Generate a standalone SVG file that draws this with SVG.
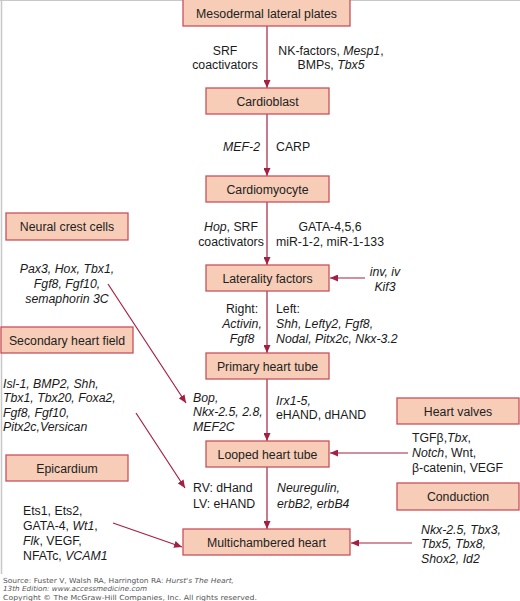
<svg xmlns="http://www.w3.org/2000/svg" width="520" height="601" viewBox="0 0 520 601">
<defs>
<style>
.box{fill:#f7cdb7;stroke:#c8505c;stroke-width:1.3}
.bt{font-family:"Liberation Sans",Arial,sans-serif;font-size:12.3px;fill:#222;text-anchor:middle}
.t{font-family:"Liberation Sans",Arial,sans-serif;font-size:12.3px;fill:#1a1a1a}
.m{text-anchor:middle}
.i{font-style:italic}
.c{stroke:#a52040;stroke-width:1.2;fill:none}
.src{font-family:"DejaVu Sans",Verdana,sans-serif;font-size:7px;fill:#555}
</style>
<marker id="ah" markerWidth="8" markerHeight="7" refX="8" refY="3.5" orient="auto" markerUnits="userSpaceOnUse">
<path d="M0,0 L8,3.5 L0,7 z" fill="#a52040"/>
</marker>
</defs>
<rect x="0" y="0" width="520" height="601" fill="#ffffff"/>
<line x1="0" y1="0.5" x2="520" y2="0.5" stroke="#c8c8c8" stroke-width="1"/>
<line x1="1.5" y1="0" x2="1.5" y2="574" stroke="#c8c8c8" stroke-width="1.5"/>

<g id="connectors">
<line class="c" x1="267" y1="26" x2="267" y2="88" marker-end="url(#ah)"/>
<line class="c" x1="267" y1="114" x2="267" y2="176" marker-end="url(#ah)"/>
<line class="c" x1="267" y1="202" x2="267" y2="265" marker-end="url(#ah)"/>
<line class="c" x1="267" y1="291" x2="267" y2="353" marker-end="url(#ah)"/>
<line class="c" x1="267" y1="379" x2="267" y2="441" marker-end="url(#ah)"/>
<line class="c" x1="267" y1="467" x2="267" y2="529" marker-end="url(#ah)"/>
<line class="c" x1="365" y1="278" x2="330" y2="278" marker-end="url(#ah)"/>
<line class="c" x1="108" y1="284" x2="186" y2="403" marker-end="url(#ah)"/>
<line class="c" x1="136" y1="413" x2="185" y2="488" marker-end="url(#ah)"/>
<line class="c" x1="408" y1="453" x2="330" y2="453" marker-end="url(#ah)"/>
<line class="c" x1="113" y1="523" x2="182" y2="547" marker-end="url(#ah)"/>
<line class="c" x1="412" y1="543" x2="351" y2="543" marker-end="url(#ah)"/>
</g>

<g id="mesodermal">
<rect class="box" x="183" y="-1" width="167" height="27"/>
<text class="bt" x="266.5" y="17.5">Mesodermal lateral plates</text>
</g>
<g id="cardioblast">
<rect class="box" x="206" y="88" width="123" height="26"/>
<text class="bt" x="267.5" y="105.5">Cardioblast</text>
</g>
<g id="cardiomyocyte">
<rect class="box" x="206" y="176" width="123" height="26"/>
<text class="bt" x="267.5" y="193.5">Cardiomyocyte</text>
</g>
<g id="laterality">
<rect class="box" x="206" y="265" width="123" height="26"/>
<text class="bt" x="267.5" y="282.5">Laterality factors</text>
</g>
<g id="primary">
<rect class="box" x="206" y="353" width="123" height="26"/>
<text class="bt" x="267.5" y="370.5">Primary heart tube</text>
</g>
<g id="looped">
<rect class="box" x="206" y="441" width="123" height="26"/>
<text class="bt" x="267.5" y="458.5">Looped heart tube</text>
</g>
<g id="multichambered">
<rect class="box" x="183" y="529" width="167" height="26"/>
<text class="bt" x="266.5" y="546.5">Multichambered heart</text>
</g>
<g id="neural-crest">
<rect class="box" x="6" y="213" width="122" height="27"/>
<text class="bt" x="67" y="231">Neural crest cells</text>
</g>
<g id="secondary">
<rect class="box" x="1" y="327" width="132" height="26"/>
<text class="bt" x="67" y="344.5">Secondary heart field</text>
</g>
<g id="epicardium">
<rect class="box" x="6" y="455" width="122" height="26"/>
<text class="bt" x="67" y="472.5">Epicardium</text>
</g>
<g id="heart-valves">
<rect class="box" x="397" y="398" width="122" height="26"/>
<text class="bt" x="458" y="415.5">Heart valves</text>
</g>
<g id="conduction">
<rect class="box" x="397" y="483" width="122" height="27"/>
<text class="bt" x="458" y="501">Conduction</text>
</g>

<g id="labels">
<text class="t m" x="225" y="54.5">SRF</text>
<text class="t m" x="225" y="68.5">coactivators</text>
<text class="t m" x="331" y="54.5">NK-factors, <tspan class="i">Mesp1</tspan>,</text>
<text class="t m" x="331" y="68.5">BMPs, <tspan class="i">Tbx5</tspan></text>
<text class="t i" x="260" y="150.5" text-anchor="end">MEF-2</text>
<text class="t" x="276" y="150.5">CARP</text>
<text class="t m" x="231" y="230.5"><tspan class="i">Hop</tspan>, SRF</text>
<text class="t m" x="231" y="245.5">coactivators</text>
<text class="t m" x="330" y="230.5">GATA-4,5,6</text>
<text class="t m" x="330" y="245.5">miR-1-2, miR-1-133</text>
<text class="t m i" x="385" y="275.5">inv, iv</text>
<text class="t m i" x="385" y="290.5">Kif3</text>
<text class="t m i" x="67" y="272.5">Pax3, Hox, Tbx1,</text>
<text class="t m i" x="67" y="287.5">Fgf8, Fgf10,</text>
<text class="t m i" x="67" y="302.5">semaphorin 3C</text>
<text class="t m" x="242" y="312.5">Right:</text>
<text class="t m i" x="242" y="327.5">Activin,</text>
<text class="t m i" x="242" y="342.5">Fgf8</text>
<text class="t" x="276" y="312.5">Left:</text>
<text class="t i" x="276" y="327.5">Shh, Lefty2, Fgf8,</text>
<text class="t i" x="276" y="342.5">Nodal, Pitx2c, Nkx-3.2</text>
<text class="t i" x="3" y="387.5">Isl-1, BMP2, Shh,</text>
<text class="t i" x="3" y="402">Tbx1, Tbx20, Foxa2,</text>
<text class="t i" x="3" y="416.5">Fgf8, Fgf10,</text>
<text class="t i" x="3" y="431">Pitx2c,Versican</text>
<text class="t i" x="193" y="401.5">Bop,</text>
<text class="t i" x="193" y="416">Nkx-2.5, 2.8,</text>
<text class="t i" x="193" y="430.5">MEF2C</text>
<text class="t i" x="276" y="404.5">Irx1-5,</text>
<text class="t" x="276" y="418.5">eHAND, dHAND</text>
<text class="t" x="412" y="441.5">TGFβ,<tspan class="i">Tbx</tspan>,</text>
<text class="t" x="412" y="456.5"><tspan class="i">Notch</tspan>, Wnt,</text>
<text class="t" x="412" y="471.5">β-catenin, VEGF</text>
<text class="t" x="193" y="491.5">RV: dHand</text>
<text class="t" x="193" y="507.5">LV: eHAND</text>
<text class="t i" x="277" y="491.5">Neuregulin,</text>
<text class="t i" x="277" y="507.5">erbB2, erbB4</text>
<text class="t" x="23" y="514.5">Ets1, Ets2,</text>
<text class="t" x="23" y="529.5">GATA-4, <tspan class="i">Wt1</tspan>,</text>
<text class="t" x="23" y="544.5"><tspan class="i">Flk</tspan>, VEGF,</text>
<text class="t" x="23" y="559.5">NFATc, <tspan class="i">VCAM1</tspan></text>
<text class="t i" x="421" y="533.5">Nkx-2.5, Tbx3,</text>
<text class="t i" x="421" y="548">Tbx5, Tbx8,</text>
<text class="t i" x="421" y="562.5">Shox2, Id2</text>
</g>

<g id="source">
<text class="src" x="3" y="583" textLength="231" lengthAdjust="spacingAndGlyphs">Source: Fuster V, Walsh RA, Harrington RA: <tspan class="i">Hurst's The Heart,</tspan></text>
<text class="src i" x="3" y="591" textLength="144" lengthAdjust="spacingAndGlyphs">13th Edition: www.accessmedicine.com</text>
<text class="src" x="3" y="600" textLength="254" lengthAdjust="spacingAndGlyphs">Copyright © The McGraw-Hill Companies, Inc. All rights reserved.</text>
</g>
</svg>
